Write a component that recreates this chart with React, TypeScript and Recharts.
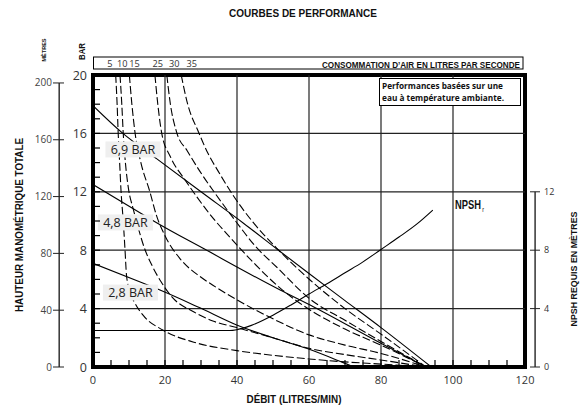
import React from "react";
import {
  ComposedChart,
  Line,
  Scatter,
  XAxis,
  YAxis,
  ReferenceLine,
  ReferenceArea,
} from "recharts";

const W = 587;
const H = 409;

// axis ticks
const flowTicks = [0, 5, 10, 15, 20, 25, 30, 35, 40, 45, 50, 55, 60, 65, 70, 75, 80, 85, 90, 95, 100, 105, 110, 115, 120];
const barTicks = [0, 1, 2, 3, 4, 5, 6, 7, 8, 9, 10, 11, 12, 13, 14, 15, 16, 17, 18, 19, 20];
const meterTicks = [0, 40, 80, 120, 160, 200];
const npshTicks = [0, 4, 8, 12];
const airTickPos = [4.7, 8.1, 11.5, 18.0, 22.6, 27.4];
const airTickLabels = ["5", "10", "15", "25", "30", "35"];
const gridFlow = [20, 40, 60, 80, 100];
const gridHead = [4, 8, 12, 16];

// supply pressure curves (flow l/min -> head bar)
const p69Flow = [0, 8.3, 17.5, 30, 41.8, 51, 60, 70, 80, 94];
const p69Head = [17.9, 16.0, 14.3, 12.0, 9.85, 8.1, 6.4, 4.55, 2.7, 0];
const p48Flow = [0, 13.5, 17.2, 31.1, 52, 61.2, 80, 92.5];
const p48Head = [12.5, 10.5, 9.95, 8.06, 5.27, 4.13, 1.62, 0];
const p28Flow = [0, 14, 18.6, 29.7, 39.9, 50, 59.3, 69.5, 72.5];
const p28Head = [7.1, 5.73, 5.27, 4.05, 2.88, 2.0, 1.28, 0.3, 0];

// air consumption curves (l/s)
const a5Flow = [6.3, 6.7, 7.0, 7.4, 7.8, 8.4, 8.9, 9.3, 10.2, 11.6, 13.9, 19.4, 28, 40, 50, 60, 70, 80, 92.5];
const a5Head = [20, 18, 16, 14, 12, 10, 8, 6.3, 5.2, 4.4, 3.55, 2.53, 1.7, 1.12, 0.8, 0.55, 0.35, 0.2, 0];
const a10Flow = [7.5, 8.0, 8.4, 9.0, 9.8, 11.2, 12.6, 14.2, 16.5, 19, 22.3, 27.8, 33.3, 39.9, 50, 60, 70, 80, 92.5];
const a10Head = [20, 18, 16, 14, 12.3, 10.8, 9.5, 8.2, 6.9, 5.8, 4.7, 3.8, 3.15, 2.7, 2.0, 1.28, 0.85, 0.48, 0];
const a15Flow = [10.1, 10.8, 11.7, 13.3, 15.8, 17.6, 19.9, 24.1, 29.7, 33.3, 40, 50, 60, 70, 80, 92.5];
const a15Head = [20, 18, 16, 14, 12, 10.4, 9.04, 7.44, 6.2, 5.6, 4.6, 3.3, 2.2, 1.5, 0.93, 0];
const a25Flow = [17.2, 18.0, 19.1, 21.5, 25.6, 29, 33, 38, 44, 52, 60, 70, 80, 92.5];
const a25Head = [20, 18, 16, 14.4, 12.8, 11.6, 10.3, 8.9, 7.3, 5.4, 3.95, 2.6, 1.5, 0];
const a30Flow = [20.5, 21.5, 23.2, 26.2, 29.7, 33.9, 39.9, 45, 51, 60.3, 70, 80, 92.5];
const a30Head = [20, 18, 16.1, 14.8, 13.4, 11.9, 9.9, 8.3, 6.85, 4.65, 3.2, 1.75, 0];
const a35Flow = [24.5, 26.3, 29.3, 32, 34.8, 38.8, 44.5, 51, 60.3, 70, 80, 92.5];
const a35Head = [20, 18, 16.1, 14.6, 13.4, 11.8, 9.9, 8.15, 5.96, 4.0, 2.25, 0];

// NPSH required (m)
const npshFlow = [0, 38, 40, 44, 50, 55, 60, 65, 70, 75, 80, 85, 90, 94.4];
const npshHead = [2.5, 2.5, 2.56, 2.85, 3.55, 4.25, 5.0, 5.7, 6.45, 7.2, 8.05, 8.9, 9.8, 10.75];

// pressure labels
const pressureText = ["6,9 BAR", "4,8 BAR", "2,8 BAR"];
const pressureFlow = [11.1, 9.0, 10.4];
const pressureHead = [14.9, 9.9, 5.1];

const meterAxisFlow = -9.4;
const npshAxisFlow = 122.8;

const pts = (xs: number[], ys: number[]) => xs.map((x, i) => ({ x, y: ys[i] }));

const tickFont = "'Open Sans', sans-serif";
const boldFont = "'Liberation Sans', Arial, sans-serif";

function FlowTick(props: any) {
  const { x, y, payload } = props;
  const v = payload.value;
  return (
    <g>
      {v > 0 && v < 120 && <line x1={x} x2={x} y1={y} y2={y - 7} stroke="#000" strokeWidth={1.2} />}
      {v % 20 === 0 && (
        <text x={x} y={y + 17} textAnchor="middle" fontSize={11} fill="#333" fontFamily={tickFont}>
          {v}
        </text>
      )}
    </g>
  );
}

function BarTick(props: any) {
  const { x, y, payload } = props;
  const v = payload.value;
  return (
    <g>
      {v > 0 && v < 20 && <line x1={x} x2={x + 7} y1={y} y2={y} stroke="#000" strokeWidth={1.2} />}
      {v % 4 === 0 && (
        <text x={x - 6} y={y + 4.5} textAnchor="end" fontSize={12.5} fill="#333" fontFamily={tickFont}>
          {v}
        </text>
      )}
    </g>
  );
}

function MeterTick(props: any) {
  const { x, y, payload } = props;
  return (
    <g>
      <line x1={x - 7} x2={x + 4} y1={y} y2={y} stroke="#222" strokeWidth={1} />
      <text x={x - 8} y={y + 3.5} textAnchor="end" fontSize={10} fill="#444" fontFamily={tickFont}>
        {payload.value}
      </text>
    </g>
  );
}

function NpshTick(props: any) {
  const { x, y, payload } = props;
  return (
    <g>
      <line x1={x + 5} x2={x + 15} y1={y} y2={y} stroke="#222" strokeWidth={1} />
      <text x={x + 19} y={y + 3} textAnchor="start" fontSize={9} fill="#333" fontFamily={tickFont}>
        {payload.value}
      </text>
    </g>
  );
}

function AirTick(props: any) {
  const { x, y, payload } = props;
  const i = airTickPos.indexOf(payload.value);
  return (
    <text x={x} y={y - 8.2} textAnchor="middle" fontSize={9.2} fill="#333" fontFamily={tickFont}>
      {airTickLabels[i]}
    </text>
  );
}

function PressureLabel(props: any) {
  const { cx, cy, payload } = props;
  return (
    <g>
      <rect x={cx - 27.5} y={cy - 8} width={55} height={16} fill="#efefef" />
      <text x={cx} y={cy + 4.5} textAnchor="middle" fontSize={12.5} fill="#222" fontFamily={tickFont}>
        {payload.text}
      </text>
    </g>
  );
}

const solid = { stroke: "#000", strokeWidth: 1.1 };
const dashed = { stroke: "#000", strokeWidth: 1.1, strokeDasharray: "8 3" };

export default function App() {
  const pressureData = pressureText.map((text, i) => ({ x: pressureFlow[i], y: pressureHead[i], text }));
  const airCurves = [
    pts(a5Flow, a5Head),
    pts(a10Flow, a10Head),
    pts(a15Flow, a15Head),
    pts(a25Flow, a25Head),
    pts(a30Flow, a30Head),
    pts(a35Flow, a35Head),
  ];
  const pressureCurves = [pts(p69Flow, p69Head), pts(p48Flow, p48Head), pts(p28Flow, p28Head)];

  return (
    <div style={{ position: "absolute", left: 0, top: 0, width: W, height: H, background: "#fff" }}>
      <ComposedChart width={W} height={H} margin={{ top: 0, right: 0, bottom: 0, left: 0 }}>
        <XAxis
          dataKey="x"
          type="number"
          domain={[0, 120]}
          allowDataOverflow
          ticks={flowTicks}
          interval={0}
          height={42}
          axisLine={false}
          tickLine={false}
          tickSize={0}
          tickMargin={0}
          tick={<FlowTick />}
        />
        <XAxis
          xAxisId="top"
          orientation="top"
          dataKey="x"
          type="number"
          domain={[0, 120]}
          allowDataOverflow
          ticks={airTickPos}
          interval={0}
          height={75}
          axisLine={false}
          tickLine={false}
          tickSize={0}
          tickMargin={0}
          tick={<AirTick />}
        />
        <YAxis
          yAxisId="bar"
          dataKey="y"
          type="number"
          domain={[0, 20]}
          allowDataOverflow
          ticks={barTicks}
          interval={0}
          width={33}
          axisLine={false}
          tickLine={false}
          tickSize={0}
          tickMargin={0}
          tick={<BarTick />}
        />
        <YAxis
          yAxisId="m"
          type="number"
          domain={[0, 205.6]}
          allowDataOverflow
          ticks={meterTicks}
          interval={0}
          width={60}
          axisLine={false}
          tickLine={false}
          tickSize={0}
          tickMargin={0}
          tick={<MeterTick />}
        />
        <YAxis
          yAxisId="npsh"
          orientation="right"
          type="number"
          domain={[0, 20]}
          allowDataOverflow
          ticks={npshTicks}
          interval={0}
          width={62}
          axisLine={false}
          tickLine={false}
          tickSize={0}
          tickMargin={0}
          tick={<NpshTick />}
        />

        {gridFlow.map((v) => (
          <ReferenceLine key={`gx${v}`} x={v} yAxisId="bar" stroke="#222" strokeWidth={1.2} />
        ))}
        {gridHead.map((v) => (
          <ReferenceLine key={`gy${v}`} y={v} yAxisId="bar" stroke="#222" strokeWidth={1.2} />
        ))}
        <ReferenceLine xAxisId="top" yAxisId="bar" x={60} stroke="none" />
        <ReferenceLine
          yAxisId="m"
          ifOverflow="visible"
          segment={[{ x: meterAxisFlow, y: 0 }, { x: meterAxisFlow, y: 200 }]}
          stroke="#000"
          strokeWidth={1.2}
        />
        <ReferenceLine
          yAxisId="npsh"
          ifOverflow="visible"
          segment={[{ x: npshAxisFlow, y: 0 }, { x: npshAxisFlow, y: 12 }]}
          stroke="#000"
          strokeWidth={1.2}
        />

        {airCurves.map((d, i) => (
          <Line
            key={`air${i}`}
            data={d}
            dataKey="y"
            yAxisId="bar"
            type="monotone"
            {...dashed}
            dot={false}
            activeDot={false}
            isAnimationActive={false}
          />
        ))}
        {pressureCurves.map((d, i) => (
          <Line
            key={`p${i}`}
            data={d}
            dataKey="y"
            yAxisId="bar"
            type="monotone"
            {...solid}
            dot={false}
            activeDot={false}
            isAnimationActive={false}
          />
        ))}
        <Line
          data={pts(npshFlow, npshHead)}
          dataKey="y"
          yAxisId="bar"
          type="monotone"
          {...solid}
          dot={false}
          activeDot={false}
          isAnimationActive={false}
        />
        <Line
          data={pts(npshFlow, npshHead)}
          dataKey="y"
          xAxisId="top"
          yAxisId="bar"
          stroke="none"
          dot={false}
          activeDot={false}
          isAnimationActive={false}
        />

        <ReferenceArea
          x1={0}
          x2={120}
          y1={0}
          y2={20}
          yAxisId="bar"
          ifOverflow="visible"
          fill="none"
          stroke="#000"
          strokeWidth={4}
        />

        <Scatter data={pressureData} yAxisId="bar" shape={<PressureLabel />} isAnimationActive={false} />
      </ComposedChart>

      <svg width={W} height={H} style={{ position: "absolute", left: 0, top: 0, pointerEvents: "none" }}>
        <text x={303} y={17} textAnchor="middle" fontSize={10} fontWeight="bold" fontFamily={boldFont} fill="#111">
          COURBES DE PERFORMANCE
        </text>
        <rect x={93.5} y={57} width={429.5} height={12} fill="none" stroke="#000" strokeWidth={1} />
        <text
          x={520}
          y={67.5}
          textAnchor="end"
          fontSize={8.5}
          fontWeight="bold"
          fontFamily={boldFont}
          textLength={198}
          lengthAdjust="spacingAndGlyphs"
          fill="#111"
        >
          CONSOMMATION D’AIR EN LITRES PAR SECONDE
        </text>
        <rect x={379.5} y={78.5} width={141} height={27} fill="#fff" stroke="#000" strokeWidth={1} />
        <text x={382} y={88.5} fontSize={9} fontWeight="bold" fontFamily={tickFont} textLength={121} lengthAdjust="spacingAndGlyphs" fill="#111">
          Performances basées sur une
        </text>
        <text x={382} y={100.5} fontSize={9} fontWeight="bold" fontFamily={tickFont} textLength={122} lengthAdjust="spacingAndGlyphs" fill="#111">
          eau à température ambiante.
        </text>
        <text transform="translate(455,209) scale(0.78,1)" fontSize={12} fontWeight="bold" fontFamily={boldFont} fill="#111">
          NPSH
          <tspan dx={1.5} dy={3} fontSize={7} fontWeight="normal">
            r
          </tspan>
        </text>
        <text
          x={294}
          y={402.5}
          textAnchor="middle"
          fontSize={11}
          fontWeight="bold"
          fontFamily={boldFont}
          textLength={95}
          lengthAdjust="spacingAndGlyphs"
          fill="#111"
        >
          DÉBIT (LITRES/MIN)
        </text>
        <text
          transform="translate(23,225) rotate(-90)"
          textAnchor="middle"
          fontSize={10.5}
          fontWeight="bold"
          fontFamily={boldFont}
          textLength={174}
          lengthAdjust="spacingAndGlyphs"
          fill="#111"
        >
          HAUTEUR MANOMÉTRIQUE TOTALE
        </text>
        <text
          transform="translate(46,50) rotate(-90)"
          textAnchor="middle"
          fontSize={6}
          fontWeight="bold"
          fontFamily={boldFont}
          textLength={23}
          lengthAdjust="spacingAndGlyphs"
          fill="#111"
        >
          MÈTRES
        </text>
        <text
          transform="translate(85,51.5) rotate(-90)"
          textAnchor="middle"
          fontSize={9}
          fontWeight="bold"
          fontFamily={boldFont}
          textLength={17}
          lengthAdjust="spacingAndGlyphs"
          fill="#111"
        >
          BAR
        </text>
        <text
          transform="translate(577,269) rotate(-90)"
          textAnchor="middle"
          fontSize={9.5}
          fontWeight="bold"
          fontFamily={boldFont}
          textLength={115}
          lengthAdjust="spacingAndGlyphs"
          fill="#111"
        >
          NPSH REQUIS EN MÈTRES
        </text>
      </svg>
    </div>
  );
}
